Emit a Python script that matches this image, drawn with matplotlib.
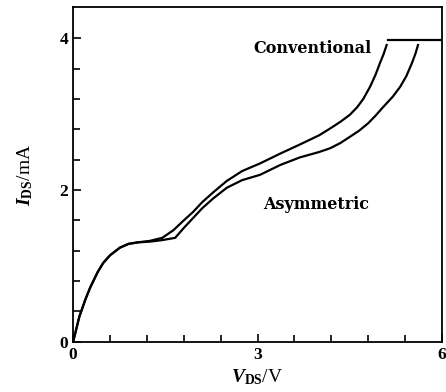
import matplotlib.pyplot as plt

v_conv = [0, 0.1, 0.2, 0.28, 0.4, 0.49, 0.6, 0.76, 0.9, 1.05, 1.25, 1.45, 1.63,
          1.8, 1.95, 2.1, 2.28, 2.5, 2.75, 3.04, 3.37, 3.69, 4.0, 4.18, 4.35, 4.5, 4.62,
          4.72, 4.83, 4.92, 4.99, 5.05, 5.1]
i_conv = [0, 0.33, 0.56, 0.72, 0.92, 1.04, 1.14, 1.24, 1.29, 1.31, 1.33, 1.37, 1.47,
          1.6, 1.71, 1.84, 1.97, 2.12, 2.25, 2.35, 2.48, 2.6, 2.72, 2.81, 2.9, 2.99, 3.09,
          3.2, 3.36, 3.52, 3.67, 3.79, 3.91]

v_asym = [0, 0.1, 0.2, 0.28, 0.4, 0.49, 0.6, 0.76, 0.9, 1.05, 1.25, 1.45, 1.66,
          1.8, 1.95, 2.1, 2.28, 2.5, 2.75, 3.04, 3.37, 3.69, 4.0, 4.18, 4.35, 4.5, 4.65,
          4.8, 4.92, 5.04, 5.2, 5.32, 5.42, 5.51, 5.57, 5.61]
i_asym = [0, 0.33, 0.56, 0.72, 0.92, 1.04, 1.14, 1.24, 1.29, 1.31, 1.32, 1.34, 1.37,
          1.5, 1.63, 1.76, 1.89, 2.03, 2.13, 2.2, 2.33, 2.43, 2.5, 2.55, 2.62, 2.7, 2.78,
          2.88, 2.98, 3.09, 3.23, 3.36, 3.5, 3.67, 3.8, 3.91]

v_limit = [5.12, 6.0]
i_limit = [3.98, 3.98]

plt.rcParams['font.family'] = 'Liberation Serif'
plt.rcParams['font.weight'] = 'bold'
plt.rcParams['mathtext.fontset'] = 'custom'
plt.rcParams['mathtext.rm'] = 'Liberation Serif:bold'
plt.rcParams['mathtext.it'] = 'Liberation Serif:italic:bold'

fig = plt.figure(figsize=(4.46, 3.92), dpi=100)
ax = fig.add_axes([0.164, 0.128, 0.827, 0.854])

ax.plot(v_conv, i_conv, color='black', lw=1.6)
ax.plot(v_asym, i_asym, color='black', lw=1.6)
ax.plot(v_limit, i_limit, color='black', lw=1.6)

ax.text(3.9, 3.87, 'Conventional', ha='center', va='center', fontsize=11.5,
        fontweight='bold', family='DejaVu Serif')
ax.text(3.95, 1.81, 'Asymmetric', ha='center', va='center', fontsize=11.5,
        fontweight='bold', family='DejaVu Serif')

ax.set_xlim(0, 6)
ax.set_ylim(0, 4.41)
ax.set_xticks([0, 3, 6])
ax.set_yticks([0, 2, 4])
ax.set_xticks([0.6 * k for k in range(11)], minor=True)
ax.set_yticks([0.4 * k for k in range(11)], minor=True)
ax.tick_params(which='both', direction='in', top=False, right=False, labelsize=12.5, width=1.2)
ax.tick_params(which='major', length=6)
ax.tick_params(which='minor', length=5)
for s in ax.spines.values():
    s.set_linewidth(1.3)

ax.set_xlabel(r'$V_{\rm DS}$/V', fontsize=14, labelpad=3)
ax.set_ylabel(r'$I_{\rm DS}$/mA', fontsize=14, labelpad=18)

fig.savefig('out.png', dpi=100)
